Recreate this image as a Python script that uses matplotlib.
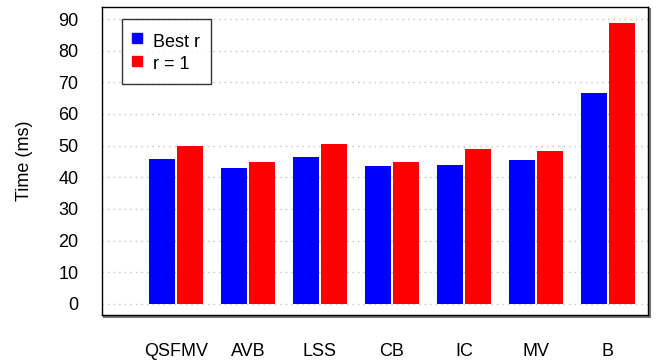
import numpy as np
import matplotlib.pyplot as plt
from matplotlib.lines import Line2D
from matplotlib.patches import Rectangle
import matplotlib.transforms as mtransforms

plt.rcParams['font.family'] = ['Liberation Sans', 'DejaVu Sans']

methods = ["QSFMV", "AVB", "LSS", "CB", "IC", "MV", "B"]
best_r = [45.8, 42.9, 46.4, 43.6, 43.9, 45.5, 66.6]
r_one = [49.9, 44.8, 50.5, 44.8, 48.9, 48.3, 88.7]

fig = plt.figure(figsize=(6.57, 3.63), dpi=100)
ax = fig.add_axes([102 / 657, 1 - 315 / 363, 546 / 657, 308 / 363])

x = np.arange(len(methods))
w = 0.36
ax.bar(x - w / 2 - 0.014, best_r, w, color='#0000ff', zorder=3)
ax.bar(x + w / 2 + 0.014, r_one, w, color='#ff0000', zorder=3)

ax.set_xlim(-1.03, 6.56)
ax.set_ylim(-3.5, 93.8)
ax.set_yticks(np.arange(0, 91, 10))
ax.set_xticks(x)
ax.set_xticklabels(methods)
ax.tick_params(axis='both', length=0, labelsize=13)
ax.tick_params(axis='x', pad=20)
ax.tick_params(axis='y', pad=17)
ax.yaxis.grid(True, linestyle=(0, (1, 3)), color='#c4c4c4', linewidth=1, zorder=0)
ax.set_ylabel('Time (ms)', fontsize=13, labelpad=18)

for s in ax.spines.values():
    s.set_color('black')
    s.set_linewidth(1)

# drop shadow behind the frame
shadow = Rectangle((0, 0), 1, 1, transform=ax.transAxes + mtransforms.ScaledTranslation(2 / 100, -2 / 100, fig.dpi_scale_trans),
                   fill=False, edgecolor='#777777', linewidth=1.5, zorder=-1, clip_on=False)
fig.add_artist(shadow)

# small square keys
handles = [Line2D([], [], marker='s', linestyle='none', color='#0000ff', markersize=6.5),
           Line2D([], [], marker='s', linestyle='none', color='#ff0000', markersize=6.5)]
leg = ax.legend(handles, ['Best r', 'r = 1'], loc='upper left',
                bbox_to_anchor=(20 / 546, 1 - 12 / 308), fontsize=13,
                frameon=True, fancybox=False, edgecolor='black', handlelength=0.5,
                handleheight=1.45, handletextpad=0.62, borderpad=0.6, labelspacing=0.05,
                borderaxespad=0)
leg.get_frame().set_linewidth(1)

fig.savefig('out.png', dpi=100)
